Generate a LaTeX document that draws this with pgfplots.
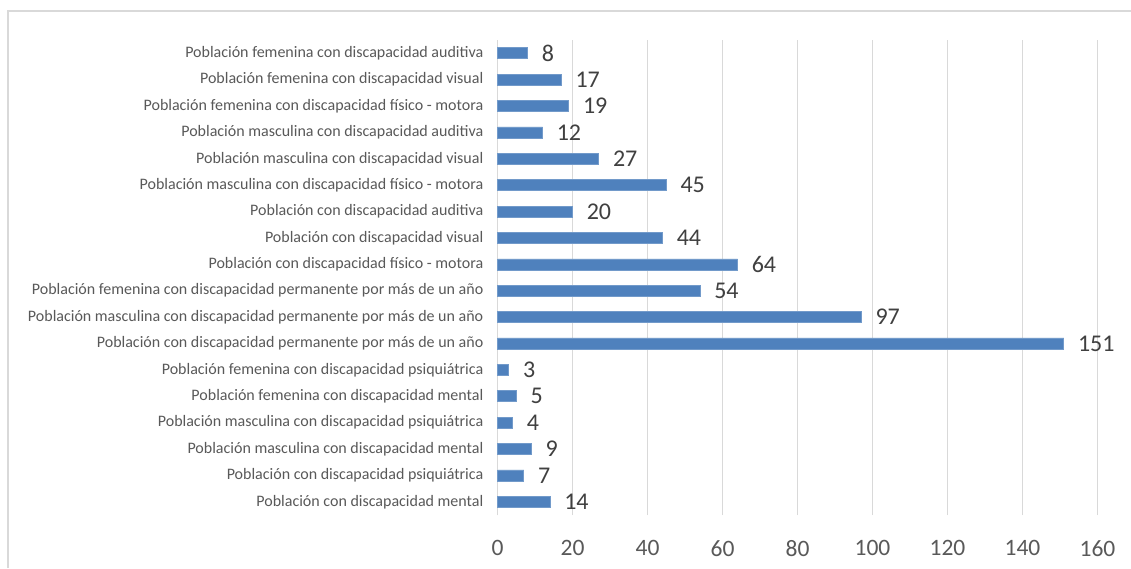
\documentclass[border=0pt]{standalone}
\usepackage{pgfplots}
\pgfplotsset{compat=1.18}
\usepackage{fontspec}
\setmainfont{Carlito}
\definecolor{barblue}{HTML}{4F81BD}
\definecolor{gridgray}{HTML}{D9D9D9}
\definecolor{labgray}{HTML}{595959}
\definecolor{numgray}{HTML}{404040}
\begin{document}
\begin{tikzpicture}[x=1pt,y=1pt]
    \useasboundingbox (0,0) rectangle (1131,568);
    \fill[white] (0,0) rectangle (1131,568);
    \draw[gridgray, line width=1.5pt] (8,0) -- (8,557) -- (1131,557);
    \begin{axis}[
            at={(497.5pt,53pt)},
            anchor=south west,
            scale only axis,
            width=600pt,
            height=475pt,
            xbar,
            bar width=11pt,
            xmin=0, xmax=160,
            ymin=-0.5, ymax=17.5,
            xtick={0,20,...,160},
            ytick={0,...,17},
            yticklabels={
                {Población con discapacidad mental},
                {Población con discapacidad psiquiátrica},
                {Población masculina con discapacidad mental},
                {Población masculina con discapacidad psiquiátrica},
                {Población femenina con discapacidad mental},
                {Población femenina con discapacidad psiquiátrica},
                {Población con discapacidad permanente por más de un año},
                {Población masculina con discapacidad permanente por más de un año},
                {Población femenina con discapacidad permanente por más de un año},
                {Población con discapacidad físico - motora},
                {Población con discapacidad visual},
                {Población con discapacidad auditiva},
                {Población masculina con discapacidad físico - motora},
                {Población masculina con discapacidad visual},
                {Población masculina con discapacidad auditiva},
                {Población femenina con discapacidad físico - motora},
                {Población femenina con discapacidad visual},
                {Población femenina con discapacidad auditiva},
            },
            axis line style={draw=none},
            major tick length=0pt,
            xmajorgrids,
            major grid style={gridgray, line width=1.8pt},
            /pgf/number format/assume math mode=true,
            x tick label style={font=\fontsize{23.5}{27}\selectfont, text=labgray,
                inner sep=0pt, anchor=north, yshift=-25pt},
            y tick label style={font=\fontsize{16}{19}\selectfont, text=labgray,
                inner sep=0pt, anchor=east, xshift=-14pt},
            nodes near coords,
            every node near coord/.append style={font=\fontsize{24}{28}\selectfont,
                text=numgray, inner sep=0pt, anchor=west, xshift=14pt},
            clip=false,
        ]
        % zero line of the category axis
        \draw[gridgray, line width=1.8pt] (axis cs:0,-0.5) -- (axis cs:0,17.5);
        \addplot[fill=barblue, draw=barblue!80!white, line width=0.6pt] coordinates {
            (14,0)
            (7,1)
            (9,2)
            (4,3)
            (5,4)
            (3,5)
            (151,6)
            (97,7)
            (54,8)
            (64,9)
            (44,10)
            (20,11)
            (45,12)
            (27,13)
            (12,14)
            (19,15)
            (17,16)
            (8,17)
        };
    \end{axis}
\end{tikzpicture}
\end{document}
